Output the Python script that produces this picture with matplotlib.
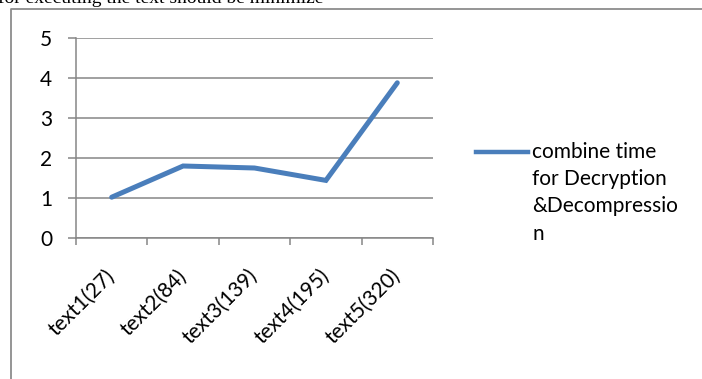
import matplotlib.pyplot as plt
from matplotlib.lines import Line2D

# combined decryption + decompression time per test file (file size in brackets)
files = ["text1(27)", "text2(84)", "text3(139)", "text4(195)", "text5(320)"]
combine_time = [1.02, 1.80, 1.75, 1.44, 3.88]
y_ticks = [0, 1, 2, 3, 4, 5]

LINE_BLUE = "#4a7ebb"
GRID_GREY = "#868686"
FONT = "Lato"

W, H = 702, 379
fig = plt.figure(figsize=(W / 100, H / 100), dpi=100)

# axes box in pixel units of the page
x0, x1 = 76, 433
y_top, y_bot = 38, 238
ax = fig.add_axes([x0 / W, 1 - y_bot / H, (x1 - x0) / W, (y_bot - y_top) / H])

pos = [i + 0.5 for i in range(len(files))]
ax.plot(pos, combine_time, color=LINE_BLUE, lw=3.6, solid_capstyle="round",
        solid_joinstyle="miter", zorder=3)

ax.set_xlim(0, len(files))
ax.set_ylim(0, 5)

for s in ("top", "right"):
    ax.spines[s].set_visible(False)
for s in ("left", "bottom"):
    ax.spines[s].set_color(GRID_GREY)
    ax.spines[s].set_linewidth(1.1)

ax.set_yticks(y_ticks)
ax.set_yticklabels([str(v) for v in y_ticks], fontsize=15, family=FONT)
ax.tick_params(axis="y", length=6, width=1.1, color=GRID_GREY, pad=11)
ax.yaxis.grid(True, color=GRID_GREY, lw=1.1)
ax.set_axisbelow(True)

# category boundaries get the ticks, names sit between them
ax.set_xticks(range(len(files) + 1))
ax.set_xticklabels([])
ax.tick_params(axis="x", which="major", length=5, width=1.1, color=GRID_GREY)
ax.set_xticks(pos, minor=True)
ax.set_xticklabels(files, minor=True, fontsize=15, family=FONT,
                   rotation=45, ha="right", va="center", rotation_mode="anchor")
ax.tick_params(axis="x", which="minor", length=0, pad=25)

# legend drawn by hand so the key sits beside the first line of text
ly = 1 - 152 / H
fig.add_artist(Line2D([476 / W, 528 / W], [ly, ly], color=LINE_BLUE, lw=3.2,
                      transform=fig.transFigure))
fig.text(532 / W, 1 - 142 / H, "combine time\nfor Decryption\n&Decompressio\nn",
         fontsize=15, family=FONT, va="top", ha="left", linespacing=1.45)

# chart frame and the line of page text above it
fig.add_artist(Line2D([11 / W, 11 / W, 1.0], [0.0, 1 - 9 / H, 1 - 9 / H],
                      color="#8c8c8c", lw=1.3, transform=fig.transFigure))
fig.text(-2 / W, 1 - 3 / H, "for executing the text should be minimize",
         fontsize=14, family="Liberation Serif", va="baseline", ha="left")

fig.savefig("out.png", dpi=100)
